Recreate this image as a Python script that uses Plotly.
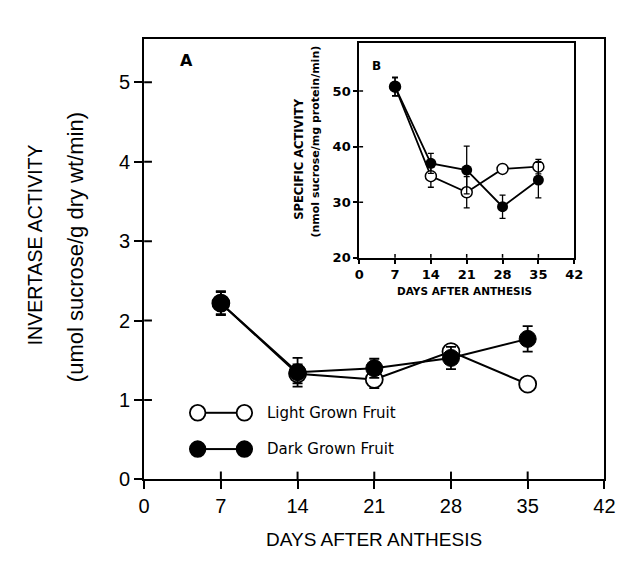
import plotly.graph_objects as go

W, H = 629, 564

# ---------------- data ----------------
days = [7, 14, 21, 28, 35]

# Panel A: invertase activity (umol sucrose/g dry wt/min)
light_A = [2.22, 1.33, 1.26, 1.61, 1.20]
light_A_err = [0.14, 0.12, 0.11, 0.08, 0.07]
dark_A = [2.22, 1.35, 1.40, 1.53, 1.77]
dark_A_err = [0.15, 0.18, 0.12, 0.14, 0.16]

# Panel B: specific activity (nmol sucrose/mg protein/min)
light_B = [50.8, 34.7, 31.8, 36.0, 36.4]
light_B_err = [1.6, 2.0, 2.8, 0.5, 1.3]
dark_B = [50.8, 37.0, 35.8, 29.2, 34.0]
dark_B_err = [1.7, 1.8, 4.3, 2.1, 3.2]

x_ticks = [0, 7, 14, 21, 28, 35, 42]
yA_ticks = [0, 1, 2, 3, 4, 5]
yB_ticks = [20, 30, 40, 50]

FONT = "Liberation Sans"
BOLD = "DejaVu Sans"


def px_x(p):
    return p / W


def px_y(p):
    return 1 - p / H


fig = go.Figure()

# main panel
fig.add_trace(go.Scatter(
    x=days, y=light_A, mode="lines+markers", xaxis="x", yaxis="y",
    line=dict(color="black", width=2),
    marker=dict(size=17, color="white", line=dict(color="black", width=1.8)),
    error_y=dict(type="data", array=light_A_err, color="black", thickness=1.8, width=5),
    showlegend=False, hoverinfo="skip"))
fig.add_trace(go.Scatter(
    x=days, y=dark_A, mode="lines+markers", xaxis="x", yaxis="y",
    line=dict(color="black", width=2),
    marker=dict(size=17, color="black", line=dict(color="black", width=1)),
    error_y=dict(type="data", array=dark_A_err, color="black", thickness=1.8, width=5),
    showlegend=False, hoverinfo="skip"))

# inset panel
fig.add_trace(go.Scatter(
    x=days, y=light_B, mode="lines+markers", xaxis="x2", yaxis="y2",
    line=dict(color="black", width=1.8),
    marker=dict(size=11, color="white", line=dict(color="black", width=1.5)),
    error_y=dict(type="data", array=light_B_err, color="black", thickness=1.3, width=3),
    showlegend=False, hoverinfo="skip"))
fig.add_trace(go.Scatter(
    x=days, y=dark_B, mode="lines+markers", xaxis="x2", yaxis="y2",
    line=dict(color="black", width=1.8),
    marker=dict(size=11, color="black"),
    error_y=dict(type="data", array=dark_B_err, color="black", thickness=1.3, width=3),
    showlegend=False, hoverinfo="skip"))

main_dx = [px_x(142), px_x(615)]
main_dy = [px_y(489), px_y(40)]
ins_dx = [px_x(363), px_x(584)]
ins_dy = [px_y(263), px_y(44)]
yA_range = [0, 449 / 81]
yB_range = [20, 20 + (263 - 44) / 5.67]

common_ax = dict(showgrid=False, zeroline=False, linecolor="black", linewidth=2,
                 tickcolor="black")

fig.update_layout(
    width=W, height=H,
    margin=dict(l=0, r=0, t=0, b=0),
    paper_bgcolor="white", plot_bgcolor="white",
    xaxis=dict(domain=main_dx, range=[0, 42], tickvals=x_ticks, ticks="outside",
               ticklen=8, tickwidth=2, showline=True, mirror=True, anchor="y",
               tickfont=dict(family=FONT, size=20, color="black"), **common_ax),
    yaxis=dict(domain=main_dy, range=yA_range, tickvals=yA_ticks, ticks="outside",
               ticklen=8, tickwidth=2, showline=True, mirror=True, anchor="x",
               tickfont=dict(family=FONT, size=20, color="black"), **common_ax),
    xaxis2=dict(domain=ins_dx, range=[0, 42], tickvals=x_ticks, ticks="outside",
                ticklen=4, tickwidth=1.5, showline=True, mirror=True, anchor="y2",
                tickfont=dict(family=BOLD, size=13, color="black", weight="bold"),
                showgrid=False, zeroline=False, linecolor="black", linewidth=1.8,
                tickcolor="black"),
    yaxis2=dict(domain=ins_dy, range=yB_range, tickvals=yB_ticks, ticks="outside",
                ticklen=4, tickwidth=1.5, showline=True, mirror=True, anchor="x2",
                tickfont=dict(family=BOLD, size=13, color="black", weight="bold"),
                showgrid=False, zeroline=False, linecolor="black", linewidth=1.8,
                tickcolor="black"),
)

# inward halves of the crossing tick marks (built from the tick lists)
main_in_x = 8 / (615 - 142)
main_in_y = 8 / (489 - 40)
for t in x_ticks[1:-1]:
    fig.add_shape(type="line", xref="x", yref="y domain", x0=t, x1=t, y0=0, y1=main_in_y,
                  line=dict(color="black", width=2))
for t in yA_ticks[1:]:
    fig.add_shape(type="line", xref="x domain", yref="y", x0=0, x1=main_in_x, y0=t, y1=t,
                  line=dict(color="black", width=2))

ins_in_x = 4 / (584 - 363)
ins_in_y = 4 / (263 - 44)
for t in x_ticks[1:-1]:
    fig.add_shape(type="line", xref="x2", yref="y2 domain", x0=t, x1=t, y0=0, y1=ins_in_y,
                  line=dict(color="black", width=1.5))
for t in yB_ticks[1:]:
    fig.add_shape(type="line", xref="x2 domain", yref="y2", x0=0, x1=ins_in_x, y0=t, y1=t,
                  line=dict(color="black", width=1.5))

ann = []


def text(x, y, s, size, family=FONT, angle=0, weight="normal", xanchor="center"):
    ann.append(dict(x=px_x(x), y=px_y(y), xref="paper", yref="paper", text=s,
                    showarrow=False, textangle=angle, xanchor=xanchor, yanchor="middle",
                    font=dict(family=family, size=size, color="black", weight=weight)))


# main titles
text(30, 250, "INVERTASE ACTIVITY", 19.5, angle=-90)
text(71, 252, "(umol sucrose/g dry wt/min)", 22, angle=-90)
text(378, 550, "DAYS AFTER ANTHESIS", 19)
text(185, 62, "A", 16, family=BOLD, weight="bold")

# inset titles
text(301, 162, "SPECIFIC ACTIVITY", 11.5, family=BOLD, angle=-90, weight="bold")
text(318, 144, "(nmol sucrose/mg protein/min)", 11, family=BOLD, angle=-90, weight="bold")
text(471, 297, "DAYS AFTER ANTHESIS", 10.5, family=BOLD, weight="bold")
text(381, 67, "B", 12, family=BOLD, weight="bold")

# legend drawn as shapes + text
legend_rows = [("Light Grown Fruit", "white", 421), ("Dark Grown Fruit", "black", 458)]
r = 8
for label, fill, yc in legend_rows:
    for xc in (197, 245):
        fig.add_shape(type="circle", xref="paper", yref="paper",
                      x0=px_x(xc - r), x1=px_x(xc + r), y0=px_y(yc + r), y1=px_y(yc - r),
                      fillcolor=fill, line=dict(color="black", width=1.8))
    fig.add_shape(type="line", xref="paper", yref="paper",
                  x0=px_x(197 + r), x1=px_x(245 - r), y0=px_y(yc), y1=px_y(yc),
                  line=dict(color="black", width=2))
    text(266, yc, label, 15, family=BOLD, xanchor="left")

fig.update_layout(annotations=ann)

fig.write_html("out.html")
